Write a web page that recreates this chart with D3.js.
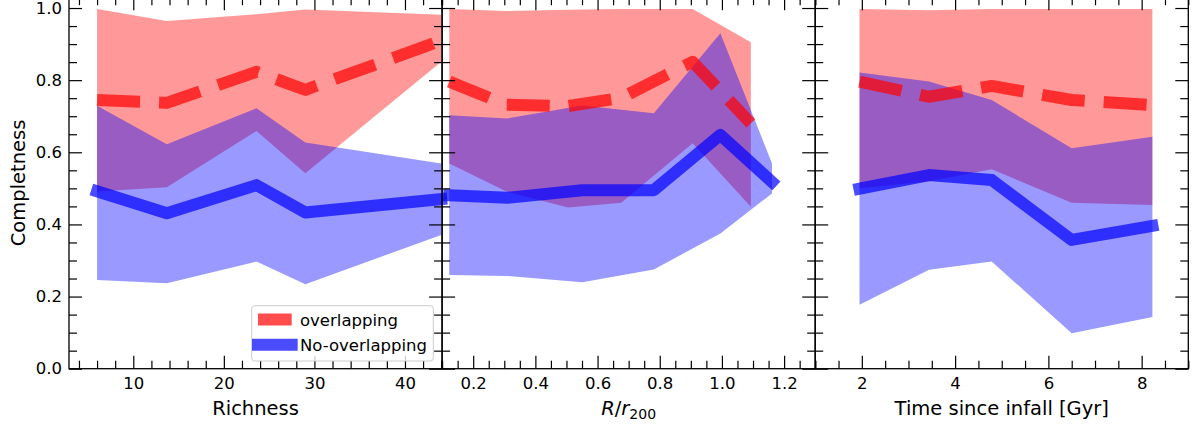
<!DOCTYPE html>
<html>
<head>
<meta charset="utf-8">
<script src="https://cdn.jsdelivr.net/npm/d3@7"></script>
<style>
  html, body { margin: 0; padding: 0; background: #fff; }
  svg { display: block; font-family: "DejaVu Sans", sans-serif; }
</style>
</head>
<body>
<svg id="chart" width="1198" height="429"></svg>
<script>
// ---- Richness panel ----
const richX       = [6, 13.7, 23.6, 29, 44];
const richOverMed = [0.745, 0.737, 0.823, 0.773, 0.91];
const richOverLo  = [0.491, 0.503, 0.659, 0.542, 0.851];
const richOverHi  = [0.997, 0.964, 0.983, 0.996, 0.981];
const richNoMed   = [0.492, 0.431, 0.509, 0.433, 0.470];
const richNoLo    = [0.246, 0.237, 0.297, 0.234, 0.371];
const richNoHi    = [0.729, 0.622, 0.722, 0.627, 0.569];

// ---- R/r200 panel (the two samples use different bins) ----
const radOverX    = [0.123, 0.307, 0.505, 0.676, 0.906, 1.093];
const radOverMed  = [0.796, 0.732, 0.728, 0.751, 0.851, 0.680];
const radOverLo   = [0.569, 0.491, 0.447, 0.460, 0.625, 0.449];
const radOverHi   = [0.997, 0.992, 0.995, 0.997, 0.997, 0.905];
const radNoX      = [0.123, 0.310, 0.551, 0.781, 0.995, 1.161];
const radNoMed    = [0.481, 0.474, 0.495, 0.495, 0.648, 0.518];
const radNoLo     = [0.260, 0.257, 0.240, 0.275, 0.375, 0.486];
const radNoHi     = [0.703, 0.694, 0.730, 0.708, 0.930, 0.569];

// ---- Time since infall panel ----
const timeX       = [1.95, 3.44, 4.785, 6.5, 8.23];
const timeOverMed = [0.796, 0.754, 0.784, 0.745, 0.731];
const timeOverLo  = [0.500, 0.520, 0.553, 0.460, 0.454];
const timeOverHi  = [0.997, 0.994, 0.997, 0.997, 0.997];
const timeNoMed   = [0.499, 0.537, 0.523, 0.357, 0.396];
const timeNoLo    = [0.177, 0.274, 0.297, 0.098, 0.143];
const timeNoHi    = [0.821, 0.796, 0.745, 0.611, 0.643];

// ---- axes ticks / labels ----
const yMajor = [0, 0.2, 0.4, 0.6, 0.8, 1.0];
const richMajor = [10, 20, 30, 40];
const radMajor = [0.2, 0.4, 0.6, 0.8, 1.0, 1.2];
const timeMajor = [2, 4, 6, 8];
const legendLabels = ["overlapping", "No-overlapping"];
const yLabel = "Completness";

const svg = d3.select("#chart");
const bottom = 368.7;
const y = d3.scaleLinear([0, 1.03], [bottom, -2.8]);
const panelW = 373.1, left0 = 69;

const zip = (xs, m, lo, hi) => xs.map((x, i) => ({x, m: m[i], lo: lo[i], hi: hi[i]}));

const panels = [
  { domain: [2.9, 44.1], major: richMajor, minorStep: 2, fmt: d3.format("d"),
    over: zip(richX, richOverMed, richOverLo, richOverHi),
    no: zip(richX, richNoMed, richNoLo, richNoHi), label: "Richness" },
  { domain: [0.1, 1.3], major: radMajor, minorStep: 0.05, fmt: d3.format(".1f"),
    over: zip(radOverX, radOverMed, radOverLo, radOverHi),
    no: zip(radNoX, radNoMed, radNoLo, radNoHi), label: null },
  { domain: [1, 9], major: timeMajor, minorStep: 0.5, fmt: d3.format("d"),
    over: zip(timeX, timeOverMed, timeOverLo, timeOverHi),
    no: zip(timeX, timeNoMed, timeNoLo, timeNoHi), label: "Time since infall [Gyr]" }
];

const RED_FILL = "rgba(255,0,0,0.4)", BLUE_FILL = "rgba(0,0,255,0.4)";
const RED_LINE = "rgba(255,0,0,0.7)", BLUE_LINE = "rgba(0,0,255,0.7)";
const LW = 12, DASH = "43,19";

function range(a, b, step) {
  const out = [];
  const n = Math.round((b - a) / step);
  for (let i = 0; i <= n; i++) out.push(+(a + i * step).toFixed(6));
  return out;
}
const yMinor = range(0, 1.03, 0.05).filter(v => !yMajor.some(m => Math.abs(m - v) < 1e-6));

panels.forEach((p, i) => {
  const x0 = left0 + i * panelW, x1 = x0 + panelW;
  const x = d3.scaleLinear(p.domain, [x0, x1]);
  const g = svg.append("g");

  const area = d3.area().x(d => x(d.x)).y0(d => y(d.lo)).y1(d => y(d.hi));
  const line = d3.line().x(d => x(d.x)).y(d => y(d.m));

  g.append("path").datum(p.over).attr("d", area).attr("fill", RED_FILL);
  g.append("path").datum(p.no).attr("d", area).attr("fill", BLUE_FILL);
  g.append("path").datum(p.over).attr("d", line).attr("fill", "none")
    .attr("stroke", RED_LINE).attr("stroke-width", LW)
    .attr("stroke-dasharray", DASH).attr("stroke-linecap", "butt")
    .attr("stroke-linejoin", "round");
  g.append("path").datum(p.no).attr("d", line).attr("fill", "none")
    .attr("stroke", BLUE_LINE).attr("stroke-width", LW)
    .attr("stroke-linecap", "square").attr("stroke-linejoin", "round");

  // ticks (all pointing inward)
  const lo = Math.ceil(p.domain[0] / p.minorStep) * p.minorStep;
  const xMinor = range(lo, p.domain[1], p.minorStep)
    .filter(v => v >= p.domain[0] && v <= p.domain[1])
    .filter(v => !p.major.some(m => Math.abs(m - v) < 1e-6));

  const styleAxis = sel => {
    sel.select(".domain").remove();
    sel.selectAll(".tick line").attr("stroke", "#000").attr("stroke-width", 1.2);
    sel.selectAll("text").attr("font-family", "DejaVu Sans").attr("font-size", 16.5).attr("fill", "#000");
  };

  g.append("g").attr("transform", `translate(0,${bottom})`)
    .call(d3.axisBottom(x).tickValues(p.major).tickFormat(p.fmt).tickSize(-13).tickPadding(8.6))
    .call(styleAxis);
  g.append("g").attr("transform", `translate(0,${bottom})`)
    .call(d3.axisBottom(x).tickValues(xMinor).tickFormat("").tickSize(-8))
    .call(styleAxis);
  g.append("g").attr("transform", `translate(0,${y(1.03)})`)
    .call(d3.axisTop(x).tickValues(p.major).tickFormat("").tickSize(-13))
    .call(styleAxis);
  g.append("g").attr("transform", `translate(0,${y(1.03)})`)
    .call(d3.axisTop(x).tickValues(xMinor).tickFormat("").tickSize(-8))
    .call(styleAxis);

  g.append("g").attr("transform", `translate(${x0},0)`)
    .call(d3.axisLeft(y).tickValues(yMajor).tickFormat(i === 0 ? d3.format(".1f") : "").tickSize(-13).tickPadding(7))
    .call(styleAxis);
  g.append("g").attr("transform", `translate(${x0},0)`)
    .call(d3.axisLeft(y).tickValues(yMinor).tickFormat("").tickSize(-8))
    .call(styleAxis);
  g.append("g").attr("transform", `translate(${x1},0)`)
    .call(d3.axisRight(y).tickValues(yMajor).tickFormat("").tickSize(-13))
    .call(styleAxis);
  g.append("g").attr("transform", `translate(${x1},0)`)
    .call(d3.axisRight(y).tickValues(yMinor).tickFormat("").tickSize(-8))
    .call(styleAxis);

  // frame
  g.append("rect").attr("x", x0).attr("y", y(1.03)).attr("width", panelW)
    .attr("height", bottom - y(1.03)).attr("fill", "none")
    .attr("stroke", "#000").attr("stroke-width", 1.3);

  // x label
  const cx = (x0 + x1) / 2;
  if (p.label) {
    g.append("text").attr("x", cx).attr("y", 415).attr("text-anchor", "middle")
      .attr("font-size", 19.5).attr("fill", "#000").text(p.label);
  } else {
    const t = g.append("text").attr("x", cx).attr("y", 415).attr("text-anchor", "middle")
      .attr("font-size", 19.5).attr("fill", "#000");
    t.append("tspan").attr("font-style", "italic").text("R");
    t.append("tspan").text("/");
    t.append("tspan").attr("font-style", "italic").text("r");
    t.append("tspan").attr("font-size", 14).attr("dy", 4).text("200");
  }
});

// y label
svg.append("text")
  .attr("transform", `translate(25,${(bottom + y(1.03)) / 2}) rotate(-90)`)
  .attr("text-anchor", "middle").attr("font-size", 19.5).attr("fill", "#000")
  .text(yLabel);

// legend
const leg = svg.append("g");
leg.append("rect").attr("x", 251.7).attr("y", 305.7).attr("width", 181.6).attr("height", 55.3)
  .attr("rx", 3).attr("fill", "rgba(255,255,255,0.8)").attr("stroke", "#cccccc").attr("stroke-width", 1);
const handles = [
  { color: RED_LINE, dash: DASH, cap: "butt", yc: 319.5 },
  { color: BLUE_LINE, dash: null, cap: "square", yc: 344.8 }
];
handles.forEach((h, i) => {
  leg.append("line").attr("x1", 258).attr("x2", 291.7).attr("y1", h.yc).attr("y2", h.yc)
    .attr("stroke", h.color).attr("stroke-width", LW)
    .attr("stroke-dasharray", h.dash).attr("stroke-linecap", h.cap);
  leg.append("text").attr("x", 300).attr("y", h.yc + 6).attr("font-size", 16.5)
    .attr("fill", "#000").text(legendLabels[i]);
});
</script>
</body>
</html>
